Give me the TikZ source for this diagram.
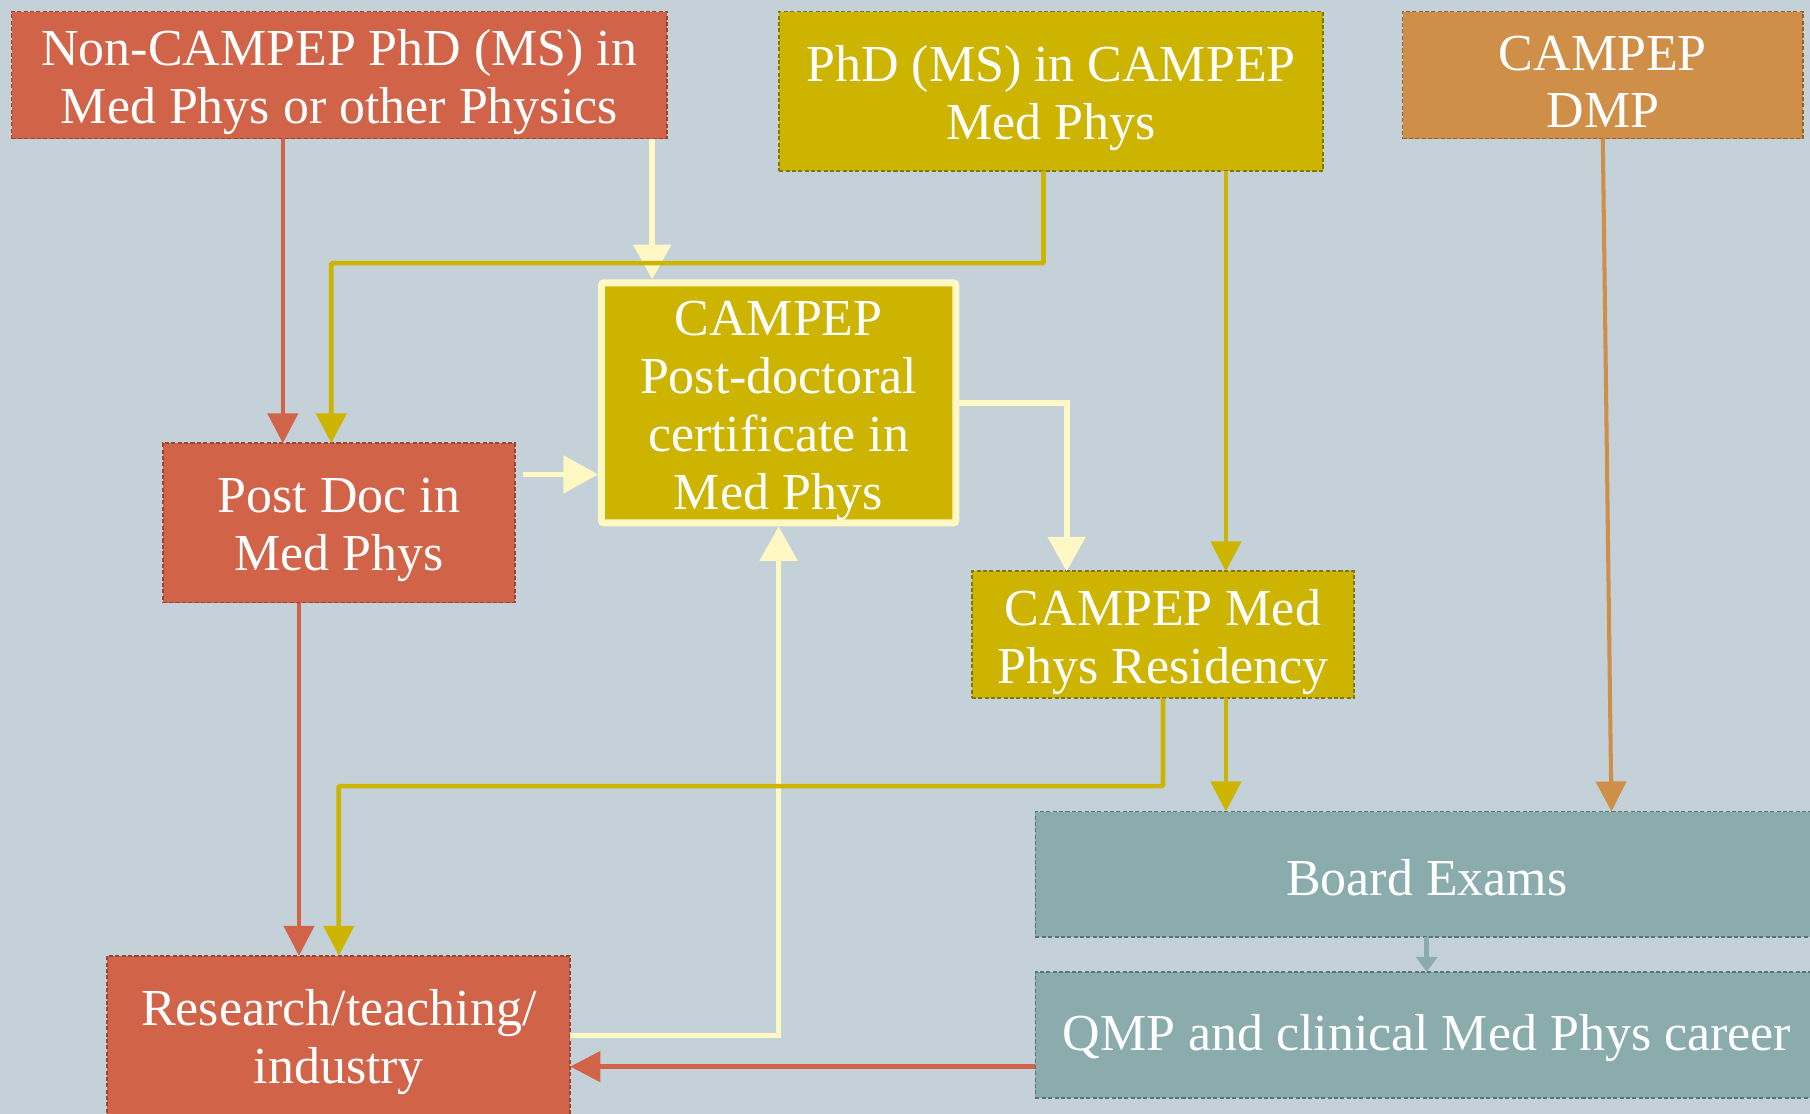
\documentclass[tikz,border=0pt]{standalone}
\usepackage{fontspec}
\setmainfont{Liberation Serif}
\usetikzlibrary{arrows.meta}
\definecolor{bgc}{HTML}{C5D1D8}
\definecolor{redf}{HTML}{D16349}
\definecolor{redd}{HTML}{9A4431}
\definecolor{olvf}{HTML}{CCB400}
\definecolor{olvd}{HTML}{857500}
\definecolor{orgf}{HTML}{D08F48}
\definecolor{orgd}{HTML}{94632C}
\definecolor{tealf}{HTML}{8AACAD}
\definecolor{teald}{HTML}{5A7374}
\definecolor{cream}{HTML}{FFF8C4}
\begin{document}
\begin{tikzpicture}[x=1pt,y=-1pt,
  box/.style={draw, dash pattern=on 3.5pt off 2pt, line width=1.6pt, inner sep=0pt, outer sep=0pt},
  txt/.style={text=white, align=center, inner sep=0pt, font=\fontsize{45}{50}\selectfont},
  redbox/.style={box, fill=redf, draw=redd},
  olvbox/.style={box, fill=olvf, draw=olvd},
  orgbox/.style={box, fill=orgf, draw=orgd},
  tealbox/.style={box, fill=tealf, draw=teald},
  certbox/.style={box, solid, fill=olvf, draw=cream, line width=6pt, rounded corners=2pt},
  conn/.style={line width=4pt, -{Triangle[length=26pt,width=26pt]}},
  redarr/.style={conn, draw=redf},
  olvarr/.style={conn, draw=olvf},
  orgarr/.style={conn, draw=orgf},
  creamarr/.style={conn, draw=cream, line width=5pt, -{Triangle[length=30pt,width=32pt]}},
  tealarr/.style={line width=4pt, draw=tealf, -{Triangle[length=13pt,width=18pt]}}
]
\useasboundingbox (0,0) rectangle (1568,965);
\clip (0,0) rectangle (1568,965);
\fill[bgc] (0,0) rectangle (1568,965);

\node[redbox, minimum width=568pt, minimum height=110pt] (A) at (294,65) {};
\node[olvbox, minimum width=471pt, minimum height=138pt] (B) at (910.5,79) {};
\node[orgbox, minimum width=347pt, minimum height=110pt] (C) at (1388.5,65) {};
\node[certbox, minimum width=307pt, minimum height=208pt] (D) at (674.5,349) {};
\node[redbox, minimum width=305pt, minimum height=138pt] (E) at (293.5,453) {};
\node[olvbox, minimum width=331pt, minimum height=110pt] (F) at (1007.5,550) {};
\node[tealbox, minimum width=678pt, minimum height=109pt] (G) at (1236,757.5) {};
\node[tealbox, minimum width=678pt, minimum height=109pt] (H) at (1236,896.5) {};
\node[redbox, minimum width=401pt, minimum height=138pt] (I) at (293.5,897) {};

\node[txt] (tA) at ([yshift=-6pt]A.center) {Non-CAMPEP PhD (MS) in\\Med Phys or other Physics};
\node[txt] (tB) at ([yshift=-6pt]B.center) {PhD (MS) in CAMPEP\\Med Phys};
\node[txt] (tC) at ([yshift=-6pt]C.center) {CAMPEP\\DMP};
\node[txt] (tD) at ([yshift=-7pt]D.center) {CAMPEP\\Post-doctoral\\certificate in\\Med Phys};
\node[txt] (tE) at ([yshift=-6pt]E.center) {Post Doc in\\Med Phys};
\node[txt] (tF) at ([yshift=-6pt]F.center) {CAMPEP Med\\Phys Residency};
\node[txt] (tG) at ([yshift=-3pt]G.center) {Board Exams};
\node[txt] (tH) at ([yshift=-3pt]H.center) {QMP and clinical Med Phys career};
\node[txt] (tI) at ([yshift=-6pt]I.center) {Research/teaching/\\industry};

% connectors
\draw[redarr] ([xshift=235pt]A.south west) -- ([xshift=104pt]E.north west);
\draw[creamarr] ([xshift=555pt]A.south west) -- ([xshift=44pt,yshift=3pt]D.north west);
\draw[olvarr, rounded corners=1pt] ([xshift=229pt]B.south west) -- ++(0,80) -| ([xshift=146pt]E.north west);
\draw[olvarr] ([xshift=387pt]B.south west) -- ([xshift=220pt]F.north west);
\draw[creamarr] ([xshift=7pt,yshift=-27pt]E.north east) -- ([xshift=-3pt,yshift=-166pt]D.north west);
\draw[creamarr] ([xshift=3pt]D.east) -| ([xshift=82pt]F.north west);
\draw[creamarr] (I.east) -| ([yshift=-3pt]D.south);
\draw[redarr] ([xshift=118pt]E.south west) -- ([xshift=166pt]I.north west);
\draw[olvarr, rounded corners=1pt] (F.south) -- ++(0,76) -| (I.north);
\draw[olvarr] ([xshift=220pt]F.south west) -- ([xshift=165pt]G.north west);
\draw[orgarr, line width=3.5pt] (C.south) -- ([xshift=499pt]G.north west);
\draw[tealarr] (G.south) -- (H.north);
\draw[redarr] ([yshift=-82pt]H.north west) -- ([yshift=-96pt]I.north east);
\end{tikzpicture}
\end{document}
